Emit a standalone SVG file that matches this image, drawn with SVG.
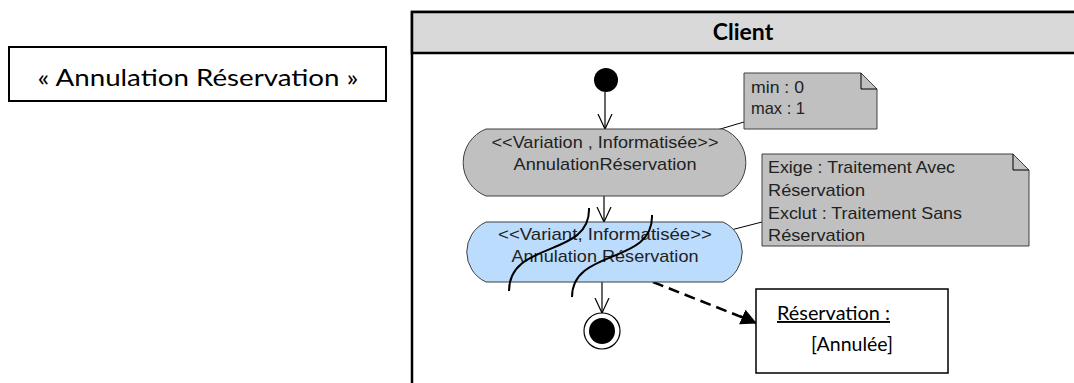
<svg xmlns="http://www.w3.org/2000/svg" width="1074" height="383" viewBox="0 0 1074 383">
  <style>
    .lane { fill: #ffffff; stroke: #000; stroke-width: 2.5; }
    .hdr { fill: #d9d9d9; stroke: #000; stroke-width: 2.5; }
    .cal { font-family: Lato, "Liberation Sans", sans-serif; fill: #000; }
    .ar { font-family: "Liberation Sans", Arial, sans-serif; font-size: 17px; fill: #222; }
    .act { stroke: #404040; stroke-width: 1; }
    .note { fill: #c0c0c0; stroke: #404040; stroke-width: 1; }
    .flow { stroke: #000; stroke-width: 1.2; fill: none; }
    .thin { stroke: #000; stroke-width: 1; fill: none; }
    .wave { stroke: #000; stroke-width: 2; fill: none; }
  </style>
  <defs>
    <marker id="open" viewBox="0 0 16 16" refX="15" refY="8" markerWidth="16" markerHeight="16" markerUnits="userSpaceOnUse" orient="auto">
      <path d="M0,1 L15,8 L0,15" fill="none" stroke="#000" stroke-width="1.2"/>
    </marker>
    <marker id="solid" viewBox="0 0 16 16" refX="15" refY="8" markerWidth="16" markerHeight="16" markerUnits="userSpaceOnUse" orient="auto">
      <path d="M0,0 L16,8 L0,16 Z" fill="#000"/>
    </marker>
  </defs>

  <g id="title">
    <rect x="9" y="47" width="377" height="54" fill="#fff" stroke="#000" stroke-width="2"/>
    <text class="cal" x="198" y="86" font-size="23" text-anchor="middle" textLength="321" lengthAdjust="spacingAndGlyphs">« Annulation Réservation »</text>
  </g>

  <g id="lane-client">
    <rect class="lane" x="412" y="12" width="700" height="400"/>
    <rect class="hdr" x="412" y="12" width="700" height="41"/>
    <text class="cal" x="743" y="40" font-size="23" font-weight="bold" text-anchor="middle">Client</text>
  </g>

  <g id="connectors">
    <line class="flow" x1="605" y1="92" x2="605" y2="129" marker-end="url(#open)"/>
    <line class="flow" x1="604" y1="196" x2="604" y2="222" marker-end="url(#open)"/>
    <line class="flow" x1="602" y1="282" x2="602" y2="313" marker-end="url(#open)"/>
    <line class="thin" x1="744" y1="122" x2="717" y2="130"/>
    <line class="thin" x1="762" y1="222" x2="727" y2="231"/>
    <line x1="653" y1="282" x2="744" y2="318" stroke="#000" stroke-width="2.5" stroke-dasharray="11,6"/>
    <line x1="740" y1="316" x2="756" y2="323" stroke="#000" stroke-width="2" marker-end="url(#solid)"/>
  </g>

  <g id="start">
    <circle cx="606" cy="80" r="12" fill="#000"/>
  </g>

  <g id="action-variation">
    <path class="act" fill="#c0c0c0" d="M486,129 L723,129 A36,36 0 0 1 723,196 L486,196 A36,36 0 0 1 486,129 Z"/>
    <text class="ar" x="605" y="148" text-anchor="middle" textLength="227" lengthAdjust="spacingAndGlyphs">&lt;&lt;Variation , Informatisée&gt;&gt;</text>
    <text class="ar" x="605" y="170" text-anchor="middle" textLength="183" lengthAdjust="spacingAndGlyphs">AnnulationRéservation</text>
  </g>

  <g id="action-variant">
    <path class="act" fill="#bbdcfc" d="M486,222 L723,222 A33,33 0 0 1 723,282 L486,282 A33,33 0 0 1 486,222 Z"/>
    <text class="ar" x="605" y="240" text-anchor="middle" textLength="214" lengthAdjust="spacingAndGlyphs">&lt;&lt;Variant, Informatisée&gt;&gt;</text>
    <text class="ar" x="605" y="262" text-anchor="middle" textLength="187" lengthAdjust="spacingAndGlyphs">Annulation Réservation</text>
    <path class="wave" d="M589,208 C591,258 509,240 509,291"/>
    <path class="wave" d="M652,215 C654,265 572,248 572,297"/>
  </g>

  <g id="end">
    <circle cx="602" cy="331" r="18" fill="#fff" stroke="#000" stroke-width="1.2"/>
    <circle cx="602" cy="331" r="13" fill="#000"/>
  </g>

  <g id="note-minmax">
    <path class="note" d="M744,73 L861,73 L877,89 L877,129 L744,129 Z"/>
    <path class="thin" d="M861,73 L861,89 L877,89" stroke="#404040"/>
    <text class="ar" x="751" y="93" textLength="53" lengthAdjust="spacingAndGlyphs">min : 0</text>
    <text class="ar" x="751" y="114" textLength="54" lengthAdjust="spacingAndGlyphs">max : 1</text>
  </g>

  <g id="note-constraints">
    <path class="note" d="M762,154 L1013,154 L1029,170 L1029,246 L762,246 Z"/>
    <path class="thin" d="M1013,154 L1013,170 L1029,170" stroke="#404040"/>
    <text class="ar" x="768" y="173" textLength="187" lengthAdjust="spacingAndGlyphs">Exige : Traitement Avec</text>
    <text class="ar" x="768" y="196" textLength="97" lengthAdjust="spacingAndGlyphs">Réservation</text>
    <text class="ar" x="768" y="219" textLength="194" lengthAdjust="spacingAndGlyphs">Exclut : Traitement Sans</text>
    <text class="ar" x="768" y="241" textLength="97" lengthAdjust="spacingAndGlyphs">Réservation</text>
  </g>

  <g id="object-reservation">
    <rect x="756" y="289" width="192" height="84" fill="#fff" stroke="#000" stroke-width="1.5"/>
    <text class="cal" x="777" y="320" font-size="19" text-decoration="underline" textLength="113" lengthAdjust="spacingAndGlyphs">Réservation :</text>
    <text class="cal" x="811" y="351" font-size="19" textLength="82" lengthAdjust="spacingAndGlyphs">[Annulée]</text>
  </g>
</svg>
